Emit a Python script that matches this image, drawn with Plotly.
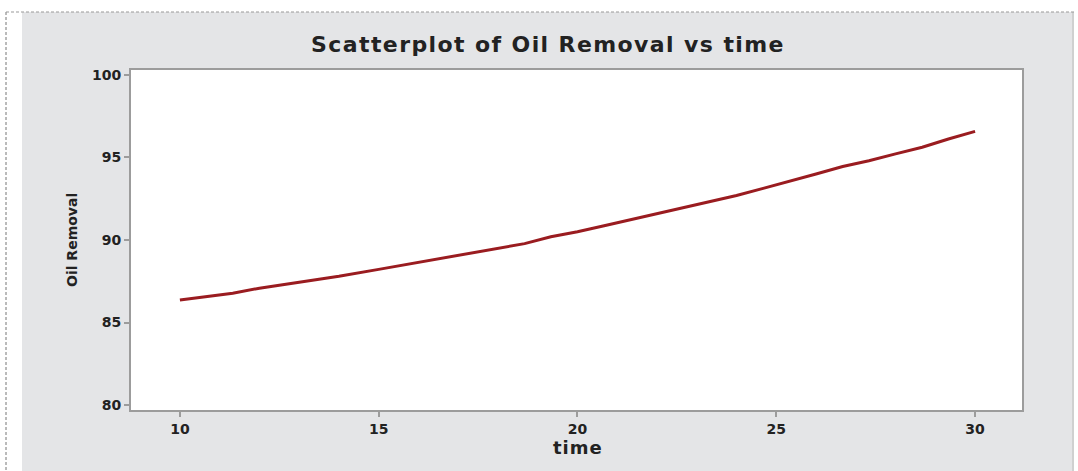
import plotly.graph_objects as go

# Data
time = [10, 10.67, 11.33, 12, 12.67, 13.33, 14, 15, 16, 16.67, 17.33, 18, 18.67, 19.33,
        20, 20.67, 21.33, 22, 22.67, 23.33, 24, 24.67, 25.33, 26, 26.67, 27.33, 28, 28.67,
        29.33, 30]
oil_removal = [86.36, 86.55, 86.78, 87.08, 87.32, 87.52, 87.8, 88.22, 88.64, 88.92, 89.18,
               89.48, 89.78, 90.2, 90.5, 90.86, 91.22, 91.58, 91.96, 92.32, 92.7, 93.13, 93.55,
               94.0, 94.45, 94.8, 95.22, 95.62, 96.12, 96.58]
x_ticks = [10, 15, 20, 25, 30]
y_ticks = [80, 85, 90, 95, 100]

W, H = 1078, 471
L, R, T, B = 131, 1022, 70, 410
pw, ph = R - L, B - T

def px(x):
    return (x - L) / pw

def py(y):
    return (B - y) / ph

fig = go.Figure()
fig.add_trace(go.Scatter(x=time, y=oil_removal, mode="lines",
                         line=dict(color="#9A1C20", width=3), showlegend=False))

GRAY = "#E4E5E7"
FF = "DejaVu Sans, sans-serif"
TXT = "#222222"
tick_font = dict(size=14, family=FF, weight="bold", color=TXT)

fig.update_layout(
    width=W, height=H,
    margin=dict(l=L, r=W - R, t=T, b=H - B),
    paper_bgcolor=GRAY, plot_bgcolor="white",
    font=dict(family=FF, color=TXT),
    title=dict(text="<span style='letter-spacing:1.4px'>Scatterplot of Oil Removal vs time</span>",
               x=548 / W, xref="container",
               xanchor="center", y=1 - 44 / H, yref="container", yanchor="middle",
               font=dict(size=22, family=FF, color=TXT, weight="bold")),
    xaxis=dict(range=[8.77, 31.18], tickvals=x_ticks, ticks="outside", ticklen=5,
               tickcolor="#9c9c9c", tickwidth=1.5, showgrid=False, zeroline=False,
               showline=True, linecolor="#9c9c9c", linewidth=2, mirror=True,
               tickfont=tick_font),
    yaxis=dict(range=[79.7, 100.3], tickvals=y_ticks, ticks="outside", ticklen=5,
               tickcolor="#9c9c9c", tickwidth=1.5, showgrid=False, zeroline=False,
               showline=True, linecolor="#9c9c9c", linewidth=2, mirror=True,
               tickfont=tick_font),
    annotations=[
        dict(text="Oil Removal", xref="paper", yref="paper", x=px(72), y=0.5,
             textangle=-90, showarrow=False, xanchor="center", yanchor="middle",
             font=dict(size=14, family=FF, weight="bold", color=TXT)),
        dict(text="<span style='letter-spacing:1px'>time</span>", xref="paper", yref="paper",
             x=px(578), y=py(447),
             showarrow=False, xanchor="center", yanchor="middle",
             font=dict(size=18, family=FF, weight="bold", color=TXT)),
    ],
    shapes=[
        # white margins outside the gray frame
        dict(type="rect", xref="paper", yref="paper", x0=px(-2), x1=px(22), y0=py(H + 2), y1=py(-2),
             fillcolor="white", line=dict(width=0), layer="above"),
        dict(type="rect", xref="paper", yref="paper", x0=px(-2), x1=px(W + 2), y0=py(12), y1=py(-2),
             fillcolor="white", line=dict(width=0), layer="above"),
        dict(type="rect", xref="paper", yref="paper", x0=px(1074), x1=px(W + 2), y0=py(H + 2), y1=py(-2),
             fillcolor="white", line=dict(width=0), layer="above"),
        # gray frame right edge
        dict(type="line", xref="paper", yref="paper", x0=px(1073), x1=px(1073), y0=py(12), y1=py(H + 2),
             line=dict(color="#c8c8c8", width=1.5), layer="above"),
        # dashed outer border
        dict(type="line", xref="paper", yref="paper", x0=px(6), x1=px(6), y0=py(12), y1=py(H + 2),
             line=dict(color="#777777", width=1, dash="3px,2px"), layer="above"),
        dict(type="line", xref="paper", yref="paper", x0=px(6), x1=px(1076), y0=py(12), y1=py(12),
             line=dict(color="#999999", width=1, dash="3px,2px"), layer="above"),
    ],
)

fig.write_html("out.html", config={"displayModeBar": False},
               post_script="document.body.style.margin='0';")
